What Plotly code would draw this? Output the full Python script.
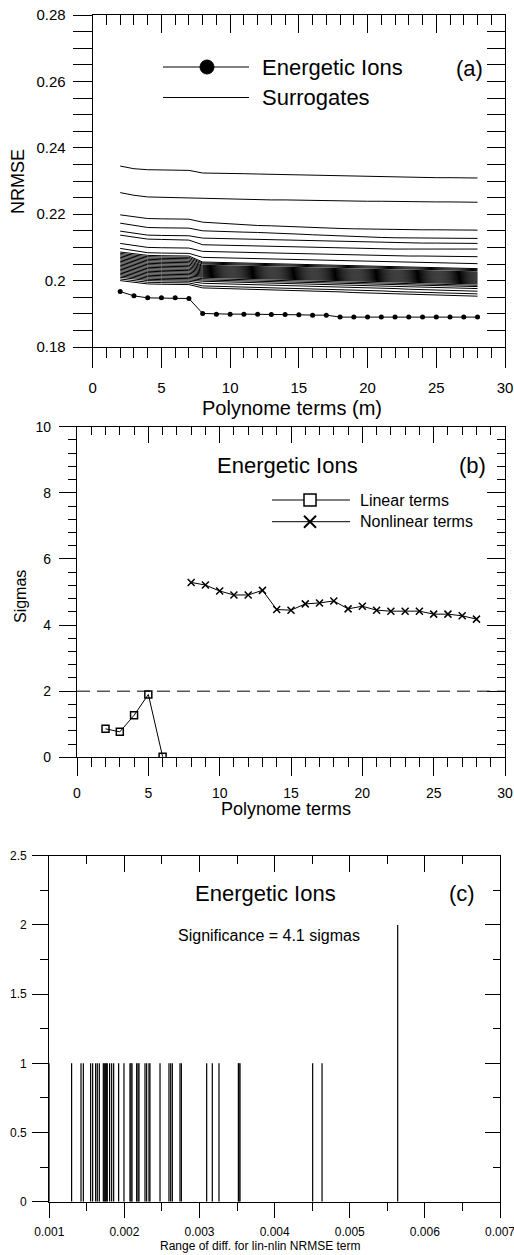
import plotly.graph_objects as go

W, H = 514, 1255
F = "Liberation Sans, Arial, sans-serif"

# ---------------- Panel (a) data ----------------
terms_a = list(range(2, 29))
energetic_nrmse = [0.1967, 0.1954, 0.1948, 0.1948, 0.1948, 0.1946, 0.1901, 0.1899, 0.1899,
                   0.1899, 0.1899, 0.1898, 0.1898, 0.1897, 0.1896, 0.1896, 0.1890, 0.1890,
                   0.1890, 0.1890, 0.1890, 0.1890, 0.1890, 0.1890, 0.1890, 0.1890, 0.1890]

# surrogate NRMSE curves, in units of 1e-4
surrogates_e4 = [
    [2345, 2337, 2334, 2334, 2334, 2332, 2324, 2324, 2323, 2322, 2321, 2320, 2319, 2318, 2317, 2316, 2315, 2314, 2313, 2312, 2311, 2311, 2310, 2310, 2310, 2309, 2309],
    [2265, 2257, 2252, 2251, 2250, 2249, 2246, 2246, 2245, 2245, 2244, 2243, 2243, 2242, 2242, 2241, 2240, 2240, 2239, 2239, 2238, 2238, 2237, 2237, 2237, 2236, 2236],
    [2198, 2192, 2187, 2186, 2186, 2185, 2176, 2173, 2170, 2168, 2166, 2165, 2163, 2161, 2159, 2158, 2157, 2156, 2155, 2155, 2154, 2154, 2153, 2153, 2152, 2152, 2152],
    [2173, 2166, 2160, 2159, 2159, 2158, 2150, 2148, 2147, 2146, 2145, 2144, 2142, 2140, 2138, 2136, 2134, 2132, 2131, 2130, 2129, 2129, 2128, 2128, 2127, 2127, 2127],
    [2149, 2142, 2137, 2136, 2136, 2135, 2128, 2127, 2126, 2125, 2124, 2123, 2122, 2121, 2120, 2119, 2118, 2117, 2116, 2115, 2114, 2114, 2113, 2113, 2112, 2112, 2112],
    [2137, 2130, 2125, 2124, 2123, 2122, 2108, 2107, 2106, 2105, 2104, 2103, 2102, 2100, 2099, 2098, 2097, 2096, 2096, 2095, 2095, 2095, 2095, 2095, 2095, 2095, 2095],
    [2112, 2105, 2100, 2099, 2099, 2098, 2088, 2087, 2086, 2085, 2084, 2083, 2082, 2081, 2080, 2079, 2078, 2077, 2076, 2076, 2075, 2074, 2074, 2073, 2073, 2072, 2072],
    [2097, 2090, 2084, 2083, 2083, 2082, 2070, 2069, 2068, 2067, 2066, 2065, 2064, 2063, 2062, 2061, 2060, 2059, 2058, 2057, 2056, 2055, 2054, 2053, 2052, 2052, 2051],
    [2086, 2080, 2076, 2075, 2075, 2074, 2056, 2055, 2054, 2053, 2052, 2051, 2050, 2049, 2048, 2047, 2046, 2045, 2044, 2043, 2042, 2041, 2040, 2039, 2038, 2037, 2036],
    [2082, 2076, 2072, 2071, 2071, 2070, 2053, 2052, 2051, 2050, 2049, 2048, 2047, 2046, 2045, 2044, 2043, 2042, 2041, 2040, 2039, 2038, 2037, 2036, 2035, 2034, 2033],
    [2078, 2072, 2068, 2067, 2067, 2066, 2050, 2049, 2048, 2047, 2046, 2045, 2044, 2043, 2042, 2041, 2040, 2039, 2038, 2037, 2036, 2035, 2034, 2033, 2032, 2031, 2030],
    [2074, 2068, 2064, 2063, 2063, 2062, 2046, 2045, 2044, 2043, 2042, 2041, 2040, 2039, 2038, 2037, 2036, 2035, 2034, 2033, 2032, 2031, 2030, 2029, 2028, 2027, 2026],
    [2070, 2064, 2060, 2059, 2059, 2058, 2043, 2042, 2041, 2040, 2039, 2038, 2037, 2036, 2035, 2034, 2033, 2032, 2031, 2030, 2029, 2028, 2027, 2026, 2025, 2024, 2023],
    [2066, 2060, 2056, 2055, 2055, 2054, 2040, 2039, 2038, 2037, 2036, 2035, 2034, 2033, 2032, 2031, 2030, 2029, 2028, 2027, 2026, 2025, 2024, 2023, 2022, 2021, 2020],
    [2062, 2056, 2052, 2051, 2051, 2050, 2037, 2036, 2035, 2034, 2033, 2032, 2031, 2030, 2029, 2028, 2027, 2026, 2025, 2024, 2023, 2022, 2021, 2020, 2019, 2018, 2017],
    [2058, 2052, 2048, 2047, 2047, 2046, 2034, 2033, 2032, 2031, 2030, 2029, 2028, 2027, 2026, 2025, 2024, 2023, 2022, 2021, 2020, 2019, 2018, 2017, 2016, 2015, 2014],
    [2054, 2048, 2044, 2043, 2043, 2042, 2031, 2030, 2029, 2028, 2027, 2026, 2025, 2024, 2023, 2022, 2021, 2020, 2019, 2018, 2017, 2016, 2015, 2014, 2013, 2012, 2011],
    [2050, 2044, 2040, 2039, 2039, 2038, 2028, 2027, 2026, 2025, 2024, 2023, 2022, 2021, 2020, 2019, 2018, 2017, 2016, 2015, 2014, 2013, 2012, 2011, 2010, 2009, 2008],
    [2046, 2040, 2036, 2035, 2035, 2034, 2025, 2024, 2023, 2022, 2021, 2020, 2019, 2018, 2017, 2016, 2015, 2014, 2013, 2012, 2011, 2010, 2009, 2008, 2007, 2006, 2005],
    [2042, 2036, 2032, 2031, 2031, 2030, 2022, 2021, 2020, 2019, 2018, 2017, 2016, 2015, 2014, 2013, 2012, 2011, 2010, 2009, 2008, 2007, 2006, 2005, 2004, 2003, 2002],
    [2038, 2032, 2028, 2027, 2027, 2026, 2019, 2018, 2017, 2016, 2015, 2014, 2013, 2012, 2011, 2010, 2009, 2008, 2007, 2006, 2005, 2004, 2003, 2002, 2001, 2000, 1999],
    [2034, 2028, 2024, 2023, 2023, 2022, 2016, 2015, 2014, 2013, 2012, 2011, 2010, 2009, 2008, 2007, 2006, 2005, 2004, 2003, 2002, 2001, 2000, 1999, 1998, 1997, 1996],
    [2030, 2024, 2020, 2019, 2019, 2018, 2013, 2012, 2011, 2010, 2009, 2008, 2007, 2006, 2005, 2004, 2003, 2002, 2001, 2000, 1999, 1998, 1997, 1996, 1995, 1994, 1993],
    [2026, 2020, 2016, 2015, 2015, 2014, 2010, 2009, 2008, 2007, 2006, 2005, 2004, 2003, 2002, 2001, 2000, 1999, 1998, 1997, 1996, 1995, 1994, 1993, 1992, 1991, 1990],
    [2022, 2016, 2012, 2011, 2011, 2010, 2006, 2005, 2004, 2003, 2002, 2001, 2000, 1999, 1998, 1997, 1996, 1995, 1994, 1993, 1992, 1991, 1990, 1989, 1988, 1987, 1986],
    [2018, 2012, 2008, 2007, 2007, 2006, 2002, 2001, 2000, 1999, 1998, 1997, 1996, 1995, 1994, 1993, 1992, 1991, 1990, 1989, 1988, 1987, 1986, 1985, 1984, 1983, 1982],
    [2014, 2008, 2004, 2003, 2003, 2002, 1998, 1997, 1996, 1995, 1994, 1993, 1992, 1991, 1990, 1989, 1988, 1987, 1986, 1985, 1984, 1983, 1982, 1981, 1979, 1977, 1976],
    [2010, 2004, 2000, 1999, 1999, 1998, 1992, 1991, 1990, 1989, 1988, 1986, 1985, 1984, 1983, 1982, 1980, 1979, 1978, 1977, 1976, 1974, 1973, 1972, 1971, 1970, 1968],
    [2005, 1999, 1995, 1994, 1994, 1993, 1984, 1983, 1982, 1981, 1979, 1978, 1977, 1976, 1975, 1973, 1972, 1971, 1970, 1969, 1967, 1966, 1965, 1964, 1963, 1961, 1960],
    [2000, 1994, 1990, 1989, 1988, 1988, 1978, 1977, 1975, 1974, 1973, 1972, 1971, 1969, 1968, 1967, 1966, 1964, 1963, 1962, 1961, 1960, 1958, 1957, 1956, 1955, 1953],
]

# ---------------- Panel (b) data ----------------
terms_linear = [2, 3, 4, 5, 6]
sigmas_linear = [0.86, 0.77, 1.27, 1.90, 0.02]
terms_nonlinear = list(range(8, 29))
sigmas_nonlinear = [5.29, 5.21, 5.03, 4.91, 4.91, 5.05, 4.47, 4.45, 4.64, 4.67, 4.73,
                    4.49, 4.57, 4.45, 4.42, 4.42, 4.42, 4.33, 4.33, 4.28, 4.18]
sigma_threshold = 2

# ---------------- Panel (c) data ----------------
diff_values = [0.001000, 0.001297, 0.001422, 0.001453, 0.001550, 0.001577, 0.001617,
               0.001639, 0.001666, 0.001719, 0.001732, 0.001746, 0.001759, 0.001772,
               0.001803, 0.001830, 0.001857, 0.001923, 0.001994, 0.002074, 0.002087,
               0.002101, 0.002163, 0.002181, 0.002194, 0.002274, 0.002296, 0.002327,
               0.002340, 0.002474, 0.002593, 0.002616, 0.002638, 0.002740, 0.002758,
               0.003095, 0.003170, 0.003259, 0.003517, 0.003526, 0.003539, 0.004506,
               0.004631, 0.005638]
diff_counts = [1] * 43 + [2]
diff_ticks = [0.001, 0.002, 0.003, 0.004, 0.005, 0.006, 0.007]

# ---------------- geometry helpers (pixels -> paper) ----------------
def px(x):
    return x / W

def py(y):
    return 1 - y / H

dom = {
    "a": ([px(92.7), px(505)], [py(347), py(15)]),
    "b": ([px(77), px(505)], [py(757.3), py(426.7)]),
    "c": ([px(49.3), px(500)], [py(1201.7), py(855.7)]),
}

fig = go.Figure()

# Panel (a) traces
for row in surrogates_e4:
    fig.add_trace(go.Scatter(x=terms_a, y=[v / 10000 for v in row], mode="lines",
                             line=dict(color="black", width=1), xaxis="x", yaxis="y",
                             hoverinfo="skip"))
fig.add_trace(go.Scatter(x=terms_a, y=energetic_nrmse, mode="lines+markers",
                         line=dict(color="black", width=1),
                         marker=dict(symbol="circle", size=5, color="black"),
                         xaxis="x", yaxis="y"))

# Panel (b) traces
fig.add_trace(go.Scatter(x=terms_linear, y=sigmas_linear, mode="lines+markers",
                         line=dict(color="black", width=1),
                         marker=dict(symbol="square-open", size=7, color="black",
                                     line=dict(width=1.5, color="black")),
                         xaxis="x2", yaxis="y2"))
fig.add_trace(go.Scatter(x=terms_nonlinear, y=sigmas_nonlinear, mode="lines+markers",
                         line=dict(color="black", width=1),
                         marker=dict(symbol="x-thin-open", size=7, color="black",
                                     line=dict(width=1.5, color="black")),
                         xaxis="x2", yaxis="y2"))

# Panel (c) spikes
sx, sy = [], []
for v, c in zip(diff_values, diff_counts):
    sx += [v, v, None]
    sy += [0, c, None]
fig.add_trace(go.Scatter(x=sx, y=sy, mode="lines", line=dict(color="black", width=1.2),
                         xaxis="x3", yaxis="y3", hoverinfo="skip"))

# dummy traces for mirrored (inside) tick axes
for k in (4, 5, 6):
    fig.add_trace(go.Scatter(x=[], y=[], xaxis=f"x{k}", yaxis=f"y{k}"))


def main_axis(domain, anchor, rng, dtick, tick0, tlen, mdtick, mlen, fsize, standoff, fmt=None):
    d = dict(domain=domain, anchor=anchor, range=rng, dtick=dtick, tick0=tick0,
             ticks="outside", ticklen=tlen, tickwidth=1, tickcolor="black",
             minor=dict(dtick=mdtick, ticklen=mlen, ticks="outside", tickcolor="black", tickwidth=1),
             showline=True, linecolor="black", linewidth=1.2, mirror=True,
             showgrid=False, zeroline=False, automargin=False, ticklabeloverflow="allow",
             tickfont=dict(family=F, size=fsize, color="black"), ticklabelstandoff=standoff)
    if fmt:
        d["tickformat"] = fmt
    return d


def mirror_axis(overlay, anchor, side, rng, dtick, tick0, tlen, mdtick, mlen):
    return dict(overlaying=overlay, anchor=anchor, side=side, range=rng, dtick=dtick, tick0=tick0,
                ticks="inside", ticklen=tlen, tickwidth=1, tickcolor="black",
                minor=dict(dtick=mdtick, ticklen=mlen, ticks="inside", tickcolor="black", tickwidth=1),
                showticklabels=False, showline=False, showgrid=False, zeroline=False)


xc_axis = main_axis(dom["c"][0], "y3", [0.001, 0.007], 0.001, 0.001, 15, 0.0005, 8, 12, 4, ".3f")
xc_axis.update(tickmode="array", tickvals=diff_ticks,
               ticktext=[f"{t:.3f}" for t in diff_ticks])

layout = dict(
    width=W, height=H, margin=dict(l=0, r=0, t=0, b=0),
    paper_bgcolor="white", plot_bgcolor="white", showlegend=False,
    font=dict(family=F, color="black"),
    # panel a
    xaxis=main_axis(dom["a"][0], "y", [0, 30], 5, 0, 20, 1, 10, 15, 7),
    yaxis=main_axis(dom["a"][1], "x", [0.18, 0.28], 0.02, 0.18, 19, 0.005, 19, 15, 4),
    xaxis4=mirror_axis("x", "y", "top", [0, 30], 5, 0, 18, 1, 10),
    yaxis4=mirror_axis("y", "x", "right", [0.18, 0.28], 0.02, 0.18, 18, 0.005, 18),
    # panel b
    xaxis2=main_axis(dom["b"][0], "y2", [0, 30], 5, 0, 18, 1, 9, 14, 5),
    yaxis2=main_axis(dom["b"][1], "x2", [0, 10], 2, 0, 17, 0.4, 8, 14, 5),
    xaxis5=mirror_axis("x2", "y2", "top", [0, 30], 5, 0, 16, 1, 8),
    yaxis5=mirror_axis("y2", "x2", "right", [0, 10], 2, 0, 18, 0.4, 8),
    # panel c
    xaxis3=xc_axis,
    yaxis3=main_axis(dom["c"][1], "x3", [0, 2.5], 0.5, 0, 16, 0.25, 8, 12, 3),
    xaxis6=mirror_axis("x3", "y3", "top", [0.001, 0.007], 0.001, 0.001, 16, 0.0005, 8),
    yaxis6=mirror_axis("y3", "x3", "right", [0, 2.5], 0.5, 0, 15, 0.25, 7),
)
fig.update_layout(**layout)

# threshold line (b)
fig.add_shape(type="line", xref="x2", yref="y2", x0=0, x1=30, y0=sigma_threshold, y1=sigma_threshold,
              line=dict(color="black", width=1, dash="13px,7px"))


def text(s, x, y, size, xanchor="center", angle=0):
    fig.add_annotation(text=s, x=px(x), y=py(y), xref="paper", yref="paper", showarrow=False,
                       xanchor=xanchor, yanchor="middle", textangle=angle,
                       font=dict(family=F, size=size, color="black"))


# axis titles
text("NRMSE", 18, 182, 18, angle=-90)
text("Polynome terms (m)", 292, 408, 20)
text("Sigmas", 20, 597, 16, angle=-90)
text("Polynome terms", 286, 809, 18)
text("Range of diff. for lin-nlin NRMSE term", 260, 1246, 12)

# panel labels & titles
text("(a)", 469, 68, 22)
text("Energetic Ions", 287, 465, 22)
text("(b)", 472, 465, 22)
text("Energetic Ions", 265, 893, 22)
text("(c)", 462, 893, 22)
text("Significance = 4.1 sigmas", 269, 935, 16)

# legend (a)
def pline(x0, x1, y, w=1):
    fig.add_shape(type="line", xref="paper", yref="paper", x0=px(x0), x1=px(x1), y0=py(y), y1=py(y),
                  line=dict(color="black", width=w))

pline(163, 249, 67)
fig.add_shape(type="circle", xref="paper", yref="paper", x0=px(200), x1=px(214), y0=py(74), y1=py(60),
              fillcolor="black", line=dict(color="black", width=1))
text("Energetic Ions", 260, 67, 22, xanchor="left")
pline(163, 249, 97.5)
text("Surrogates", 260, 97.5, 22, xanchor="left")

# legend (b)
pline(272, 350, 500)
fig.add_shape(type="rect", xref="paper", yref="paper", x0=px(304), x1=px(316), y0=py(506), y1=py(494),
              fillcolor="white", line=dict(color="black", width=1.5))
text("Linear terms", 358, 500, 16, xanchor="left")
pline(272, 350, 521.7)
fig.add_shape(type="line", xref="paper", yref="paper", x0=px(304), x1=px(316), y0=py(515.7), y1=py(527.7),
              line=dict(color="black", width=2))
fig.add_shape(type="line", xref="paper", yref="paper", x0=px(304), x1=px(316), y0=py(527.7), y1=py(515.7),
              line=dict(color="black", width=2))
text("Nonlinear terms", 358, 521.7, 16, xanchor="left")

fig.write_html("out.html", config={"displayModeBar": False},
               post_script="document.body.style.margin='0';document.body.style.overflow='hidden';")
